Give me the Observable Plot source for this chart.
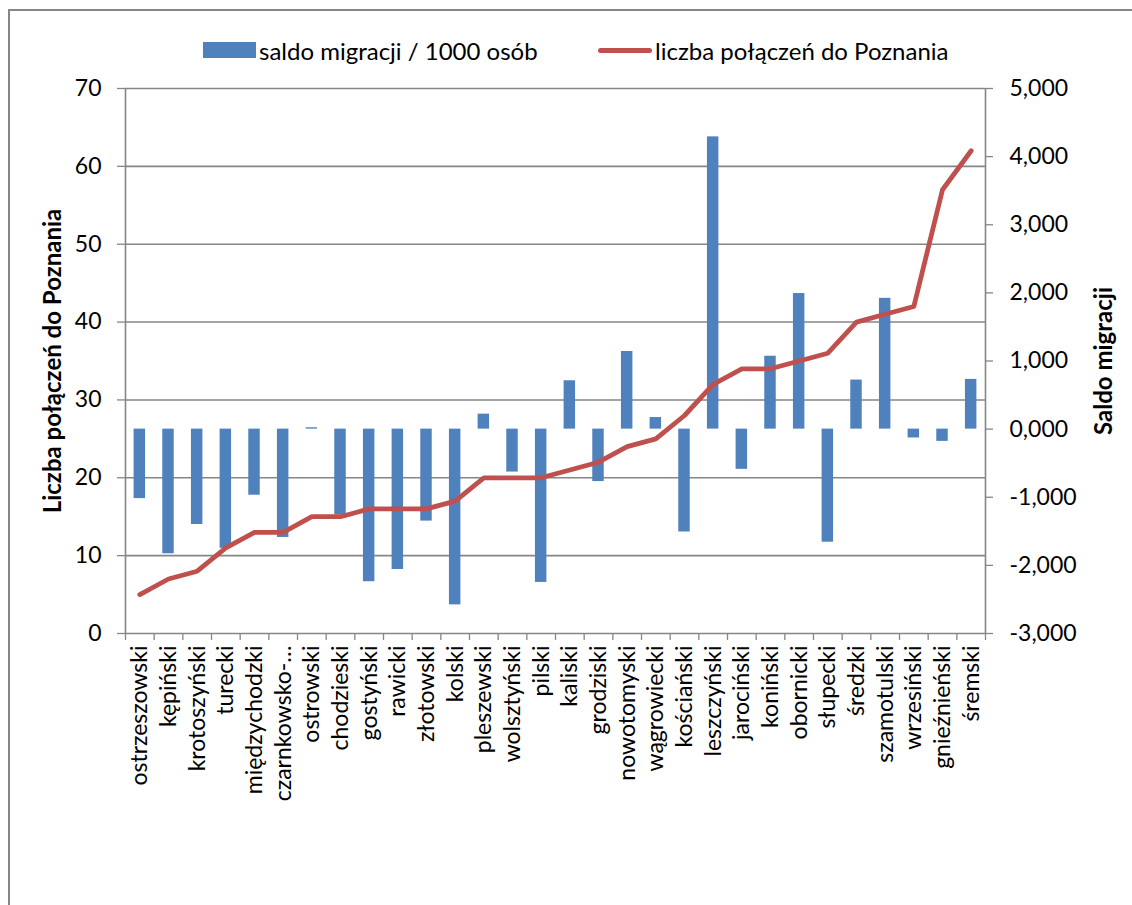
<!DOCTYPE html>
<html lang="pl">
<head>
<meta charset="utf-8">
<script src="https://cdn.jsdelivr.net/npm/d3@7"></script>
<script src="https://cdn.jsdelivr.net/npm/@observablehq/plot@0.6"></script>
<style>
  html, body { margin: 0; padding: 0; background: #fff; }
  #chart { position: relative; width: 1132px; height: 905px; overflow: hidden; font-family: Lato, "Open Sans", sans-serif; color: #000; }
  #border { position: absolute; left: 8px; top: 9px; right: -10px; bottom: -10px; border-left: 2px solid #868686; border-top: 2px solid #868686; }
  .legend-item { position: absolute; top: 34px; height: 32px; display: flex; align-items: center; font-size: 24px; white-space: nowrap; }
  .swatch-bar { width: 53px; height: 16px; background: #4F81BD; margin-right: 3px; }
  .swatch-line { width: 54px; height: 5px; border-radius: 3px; background: #C0504D; margin-right: 3px; }
  #plot { position: absolute; left: 0; top: 70px; }
</style>
</head>
<body>
<div id="chart">
  <div id="border"></div>
  <div class="legend-item" style="left:203px"><span class="swatch-bar"></span><span>saldo migracji / 1000 osób</span></div>
  <div class="legend-item" style="left:598px"><span class="swatch-line"></span><span>liczba połączeń do Poznania</span></div>
  <div id="plot"></div>
</div>
<script>
// Powiaty (counties), sorted by the number of connections to Poznań
const powiaty = [
  "ostrzeszowski", "kępiński", "krotoszyński", "turecki", "międzychodzki",
  "czarnkowsko-trzcianecki", "ostrowski", "chodzieski", "gostyński", "rawicki",
  "złotowski", "kolski", "pleszewski", "wolsztyński", "pilski",
  "kaliski", "grodziski", "nowotomyski", "wągrowiecki", "kościański",
  "leszczyński", "jarociński", "koniński", "obornicki", "słupecki",
  "średzki", "szamotulski", "wrzesiński", "gnieźnieński", "śremski"
];

// Number of connections to Poznań (left axis)
const polaczenia = [
  5, 7, 8, 11, 13, 13, 15, 15, 16, 16,
  16, 17, 20, 20, 20, 21, 22, 24, 25, 28,
  32, 34, 34, 35, 36, 40, 41, 42, 57, 62
];

// Net migration per 1000 inhabitants (right axis)
const saldoMigracji = [
  -1.02, -1.83, -1.40, -1.75, -0.97, -1.59, 0.02, -1.26, -2.24, -2.06,
  -1.35, -2.58, 0.22, -0.63, -2.25, 0.71, -0.77, 1.14, 0.17, -1.51,
  4.29, -0.59, 1.07, 1.99, -1.66, 0.72, 1.92, -0.13, -0.18, 0.73
];

// Axis ticks
const leftTicks = [0, 10, 20, 30, 40, 50, 60, 70];
const rightTicks = [-3, -2, -1, 0, 1, 2, 3, 4, 5];

const leftDomain = [0, 70];
const rightDomain = [-3, 5];

// Map a right-axis value onto the left (primary) y scale
const toLeft = v => leftDomain[0] + (v - rightDomain[0]) * (leftDomain[1] - leftDomain[0]) / (rightDomain[1] - rightDomain[0]);
const fmtRight = v => v.toFixed(3).replace(".", ",");
const shortName = s => s.length > 14 ? s.slice(0, 12) + "…" : s;

const rows = powiaty.map((name, i) => ({name, conn: polaczenia[i], saldo: saldoMigracji[i]}));

const W = 1132, H = 835;
const mL = 125, mR = 147;
const step = (W - mL - mR) / powiaty.length;
const gray = "#868686";
const font = "Lato, 'Open Sans', sans-serif";

const plot = Plot.plot({
  width: W,
  height: H,
  marginTop: 18,
  marginBottom: 272,
  marginLeft: mL,
  marginRight: mR,
  style: {fontFamily: font, fontSize: "22px", color: "#000", background: "transparent", overflow: "visible"},
  x: {domain: powiaty, paddingInner: 0.6, paddingOuter: 0.3, round: false, label: null},
  y: {domain: leftDomain, label: null},
  marks: [
    Plot.gridY(leftTicks, {stroke: gray, strokeOpacity: 1, strokeWidth: 1.6}),
    // category boundary ticks
    Plot.axisX(powiaty, {tickSize: 7, dx: -step / 2, stroke: gray, strokeWidth: 1.3, fill: "none", label: null}),
    Plot.axisX([powiaty[powiaty.length - 1]], {tickSize: 7, dx: step / 2, stroke: gray, strokeWidth: 1.3, fill: "none", label: null}),
    // category labels
    Plot.axisX({tickSize: 0, tickRotate: -90, tickPadding: 12, fontSize: 23, tickFormat: shortName, label: null}),
    // left & right axis lines
    Plot.ruleX([powiaty[0]], {dx: -step / 2, stroke: gray, strokeWidth: 1.6}),
    Plot.ruleX([powiaty[powiaty.length - 1]], {dx: step / 2, stroke: gray, strokeWidth: 1.6}),
    Plot.axisY(leftTicks, {anchor: "left", tickSize: 8, tickPadding: 16, stroke: gray, strokeWidth: 1.3, fontSize: 23, label: null}),
    Plot.axisY(rightTicks, {anchor: "right", y: d => toLeft(d), text: d => fmtRight(d), tickSize: 7, tickPadding: 17, stroke: gray, strokeWidth: 1.3, fontSize: 23, label: null}),
    // bars: net migration on the secondary scale
    Plot.barY(rows, {x: "name", y1: () => toLeft(0), y2: d => toLeft(d.saldo), fill: "#4F81BD"}),
    // line: number of connections
    Plot.lineY(rows, {x: "name", y: "conn", stroke: "#C0504D", strokeWidth: 4.8, strokeLinecap: "round", strokeLinejoin: "round"}),
    // axis titles
    Plot.text(["Liczba połączeń do Poznania"], {frameAnchor: "left", dx: -72, rotate: -90, textAnchor: "middle", fontWeight: "bold", fontSize: 24}),
    Plot.text(["Saldo migracji"], {frameAnchor: "right", dx: 119, rotate: -90, textAnchor: "middle", fontWeight: "bold", fontSize: 24})
  ]
});

document.getElementById("plot").appendChild(plot);
</script>
</body>
</html>
